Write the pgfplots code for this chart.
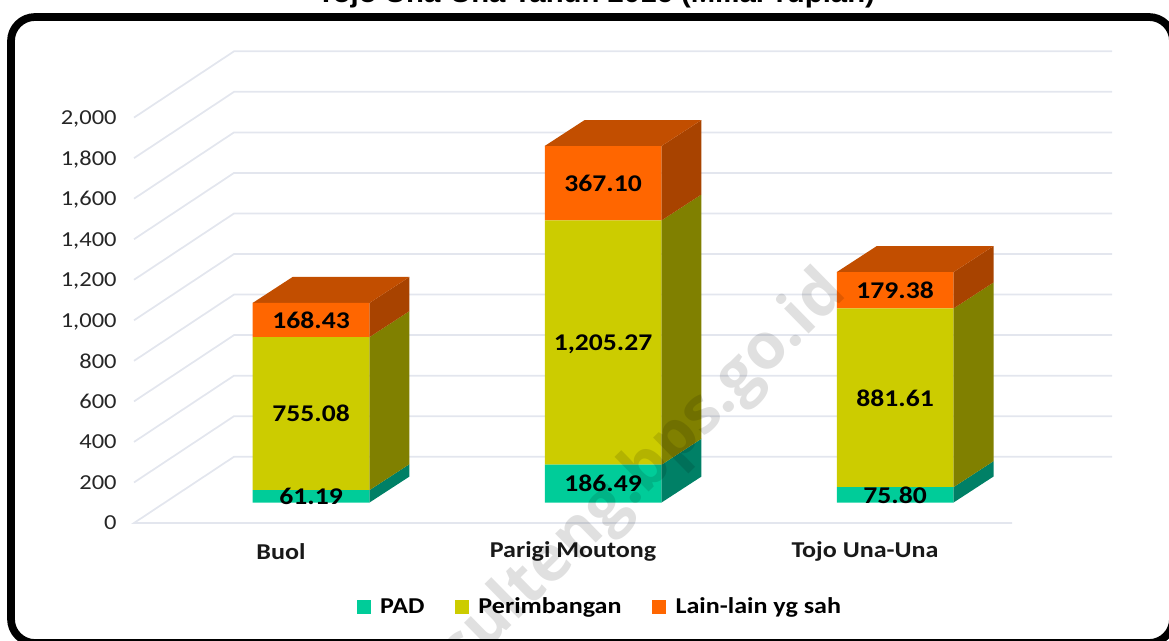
\documentclass[border=0pt]{standalone}
\usepackage{pgfplots}
\pgfplotsset{compat=1.18}
\usepackage{fontspec}
\setmainfont[FakeStretch=1.15]{Carlito}
\newfontfamily\titlefont[FakeStretch=1.1]{Liberation Sans}
\newfontfamily\wmfont{Open Sans}

\definecolor{gridc}{HTML}{E3E6EE}
\definecolor{padF}{HTML}{00CC99}
\definecolor{padS}{HTML}{008066}
\definecolor{perF}{HTML}{CCCC00}
\definecolor{perS}{HTML}{808000}
\definecolor{lainF}{HTML}{FF6600}
\definecolor{lainS}{HTML}{A84300}
\definecolor{lainT}{HTML}{C24E00}
\definecolor{tickc}{HTML}{262626}

% same frame for all three layers, 1px = 0.75pt
\pgfplotsset{
    layer/.style={
        at={(100.5pt,-392.25pt)}, anchor=south west,
        scale only axis, width=658.5pt, height=304.05pt,
        xmin=-0.5034, xmax=2.5034,
        ymin=0, ymax=2000,
        clip=false,
    },
    swatch/.style={
        legend image code/.code={
            \fill[##1] (0pt,-5.25pt) rectangle (10.5pt,5.25pt);
        },
    },
}

% bars are lifted 101 above the floor line, the depth is (0.137, 128.3)
\pgfplotstableread{
x     base  pad     per      lain
0.103 101   61.19   755.08   168.43
1.103 101   186.49  1205.27  367.10
2.103 101   75.80   881.61   179.38
}\bardata

\begin{document}
\begin{tikzpicture}[x=0.75pt,y=-0.75pt]
\path[use as bounding box] (0,0) rectangle (1169,640);

\node[font=\titlefont\bfseries\fontsize{20}{22}\selectfont, anchor=base] at (596,2)
    {Tojo Una-Una Tahun 2016 (Miliar rupiah)};
\draw[black, line width=5.8pt, rounded corners=18pt] (11,17) rectangle (1173,643);

% back layer: floor and wall grid, side and top faces
\begin{axis}[layer, hide axis]
\addplot[gridc, line width=1.3pt] coordinates {(2.5034,0) (-0.5034,0) (-0.1609,327) (2.8459,327)};
\addplot[gridc, line width=1.3pt] coordinates {(-0.5034,200) (-0.1609,527) (2.8459,527)};
\addplot[gridc, line width=1.3pt] coordinates {(-0.5034,400) (-0.1609,727) (2.8459,727)};
\addplot[gridc, line width=1.3pt] coordinates {(-0.5034,600) (-0.1609,927) (2.8459,927)};
\addplot[gridc, line width=1.3pt] coordinates {(-0.5034,800) (-0.1609,1127) (2.8459,1127)};
\addplot[gridc, line width=1.3pt] coordinates {(-0.5034,1000) (-0.1609,1327) (2.8459,1327)};
\addplot[gridc, line width=1.3pt] coordinates {(-0.5034,1200) (-0.1609,1527) (2.8459,1527)};
\addplot[gridc, line width=1.3pt] coordinates {(-0.5034,1400) (-0.1609,1727) (2.8459,1727)};
\addplot[gridc, line width=1.3pt] coordinates {(-0.5034,1600) (-0.1609,1927) (2.8459,1927)};
\addplot[gridc, line width=1.3pt] coordinates {(-0.5034,1800) (-0.1609,2127) (2.8459,2127)};
\addplot[gridc, line width=1.3pt] coordinates {(-0.5034,2000) (-0.1609,2327) (2.8459,2327)};

% Buol
\addplot[fill=padS, draw=none] coordinates {(0.303,101) (0.440,229.3) (0.440,290.49) (0.303,162.19)} --cycle;
\addplot[fill=perS, draw=none] coordinates {(0.303,162.19) (0.440,290.49) (0.440,1045.57) (0.303,917.27)} --cycle;
\addplot[fill=lainS, draw=none] coordinates {(0.303,917.27) (0.440,1045.57) (0.440,1214.0) (0.303,1085.70)} --cycle;
\addplot[fill=lainT, draw=none] coordinates {(-0.097,1085.70) (0.040,1214.0) (0.440,1214.0) (0.303,1085.70)} --cycle;
% Parigi Moutong
\addplot[fill=padS, draw=none] coordinates {(1.303,101) (1.440,229.3) (1.440,415.79) (1.303,287.49)} --cycle;
\addplot[fill=perS, draw=none] coordinates {(1.303,287.49) (1.440,415.79) (1.440,1621.06) (1.303,1492.76)} --cycle;
\addplot[fill=lainS, draw=none] coordinates {(1.303,1492.76) (1.440,1621.06) (1.440,1988.16) (1.303,1859.86)} --cycle;
\addplot[fill=lainT, draw=none] coordinates {(0.903,1859.86) (1.040,1988.16) (1.440,1988.16) (1.303,1859.86)} --cycle;
% Tojo Una-Una
\addplot[fill=padS, draw=none] coordinates {(2.303,101) (2.440,229.3) (2.440,305.10) (2.303,176.80)} --cycle;
\addplot[fill=perS, draw=none] coordinates {(2.303,176.80) (2.440,305.10) (2.440,1186.71) (2.303,1058.41)} --cycle;
\addplot[fill=lainS, draw=none] coordinates {(2.303,1058.41) (2.440,1186.71) (2.440,1366.09) (2.303,1237.79)} --cycle;
\addplot[fill=lainT, draw=none] coordinates {(1.903,1237.79) (2.040,1366.09) (2.440,1366.09) (2.303,1237.79)} --cycle;
\end{axis}

% front faces, ticks and legend
\begin{axis}[layer,
    ybar stacked, bar width=87.5pt,
    axis line style={draw=none}, major tick length=0pt,
    xtick={0,1,2}, xticklabels={Buol,Parigi Moutong,Tojo Una-Una},
    ytick={0,200,...,2000},
    /pgf/number format/1000 sep={,},
    /pgf/number format/assume math mode=true,
    y tick label style={font=\fontsize{16}{20}\selectfont, text=tickc, text depth=0pt, xshift=-9.5pt},
    x tick label style={font=\bfseries\fontsize{17}{20}\selectfont, text=black!90, anchor=center, yshift=-21.5pt},
    legend columns=3,
    legend style={
        at={(0.531,-0.207)}, anchor=center, draw=none, fill=none,
        font=\bfseries\fontsize{17}{20}\selectfont,
        /tikz/every even column/.append style={column sep=21pt},
        /tikz/every odd column/.append style={column sep=5pt},
    },
    swatch,
]
\addplot[fill=none, draw=none, forget plot] table[x=x, y=base] {\bardata};
\addplot[fill=padF, draw=none] table[x=x, y=pad] {\bardata};
\addlegendentry{PAD}
\addplot[fill=perF, draw=none] table[x=x, y=per] {\bardata};
\addlegendentry{Perimbangan}
\addplot[fill=lainF, draw=none] table[x=x, y=lain] {\bardata};
\addlegendentry{Lain-lain yg sah}
\end{axis}

% watermark sits under the value labels
\node[font=\wmfont\bfseries\fontsize{48}{50}\selectfont, text=black, opacity=0.12,
    rotate=44.5, anchor=base east] at (852,292) {sulteng.bps.go.id};

% value labels at the middle of each segment
\begin{axis}[layer, hide axis]
\addplot[draw=none, mark=none, nodes near coords, point meta=explicit symbolic,
    every node near coord/.append style={anchor=center, text depth=0pt, font=\bfseries\fontsize{18}{20}\selectfont, text=black},
] coordinates {
    (0.103,131.6) [61.19]
    (0.103,539.73) [755.08]
    (0.103,1001.5) [168.43]
    (1.103,194.2) [186.49]
    (1.103,890.1) [{1,205.27}]
    (1.103,1676.3) [367.10]
    (2.103,138.9) [75.80]
    (2.103,617.6) [881.61]
    (2.103,1148.1) [179.38]
};
\end{axis}
\end{tikzpicture}
\end{document}
